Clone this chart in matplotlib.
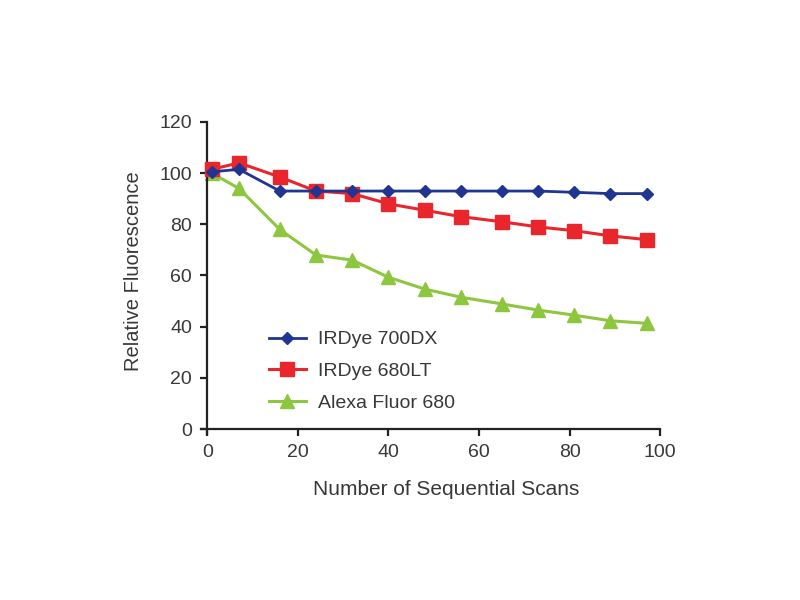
import matplotlib.pyplot as plt

plt.rcParams['font.family'] = ['Liberation Sans', 'DejaVu Sans']

scans = [1, 7, 16, 24, 32, 40, 48, 56, 65, 73, 81, 89, 97]
irdye_700dx = [100.5, 101.5, 93, 93, 93, 93, 93, 93, 93, 93, 92.5, 92, 92]
irdye_680lt = [101.5, 104, 98.5, 93, 92, 88, 85.5, 83, 81, 79, 77.5, 75.5, 74]
alexa_680 = [100, 94, 78, 68, 66, 59.3, 54.7, 51.5, 48.9, 46.5, 44.5, 42.3, 41.3]

labels = ['IRDye 700DX', 'IRDye 680LT', 'Alexa Fluor 680']

txt = '#383838'

fig = plt.figure(figsize=(8, 6), dpi=100)
ax = fig.add_axes([0.2478, 0.2722, 0.583, 0.5288])

ax.plot(scans, irdye_700dx, color='#1f3591', lw=2.0, marker='D', ms=6.5,
        label=labels[0], clip_on=False, zorder=4)
ax.plot(scans, irdye_680lt, color='#e8262b', lw=2.2, marker='s', ms=9.5,
        label=labels[1], clip_on=False, zorder=3)
ax.plot(scans, alexa_680, color='#8dc63f', lw=2.2, marker='^', ms=10,
        label=labels[2], clip_on=False, zorder=2)

ax.set_xlim(-2, 101)
ax.set_ylim(-3, 121)
ax.set_xticks([0, 20, 40, 60, 80, 100])
ax.set_yticks([0, 20, 40, 60, 80, 100, 120])

for s in ['top', 'right']:
    ax.spines[s].set_visible(False)
ax.spines['left'].set_position(('data', 0))
ax.spines['bottom'].set_position(('data', 0))
ax.spines['left'].set_bounds(-1.8, 120)
ax.spines['bottom'].set_bounds(-1.3, 100)
for s in ['left', 'bottom']:
    ax.spines[s].set_linewidth(1.6)
    ax.spines[s].set_color('#222222')

ax.tick_params(direction='out', length=5, width=1.6, color='#222222',
               labelsize=14, labelcolor=txt, pad=6)

ax.set_xlabel('Number of Sequential Scans', fontsize=15, color=txt)
ax.set_ylabel('Relative Fluorescence', fontsize=14.5, color=txt)
ax.xaxis.set_label_coords(0.531, -0.135)
ax.yaxis.set_label_coords(-0.118, 0.522)

ax.legend(loc='upper left', bbox_to_anchor=(0.324, 0.465),
          bbox_transform=fig.transFigure, frameon=False, fontsize=14,
          handlelength=1.9, handletextpad=0.6, labelspacing=0.72,
          borderpad=0, labelcolor=txt)

fig.savefig('out.png', dpi=100)
